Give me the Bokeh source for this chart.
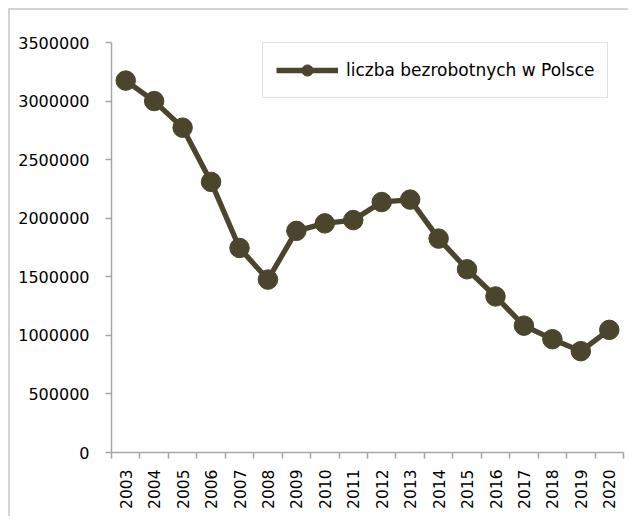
import math
from bokeh.plotting import figure
from bokeh.models import Range1d, FixedTicker, BasicTickFormatter, Legend, LegendItem
from bokeh.embed import file_html
from bokeh.resources import INLINE

years = [2003, 2004, 2005, 2006, 2007, 2008, 2009, 2010, 2011,
         2012, 2013, 2014, 2015, 2016, 2017, 2018, 2019, 2020]
unemployed = [3175000, 3000000, 2773000, 2310000, 1746000, 1476000,
              1892000, 1956000, 1984000, 2138000, 2159000, 1826000,
              1564000, 1332000, 1083000, 967000, 865000, 1047000]
y_ticks = [0, 500000, 1000000, 1500000, 2000000, 2500000, 3000000, 3500000]
series_name = "liczba bezrobotnych w Polsce"

COLOR = "#4b452e"
AXIS = "#a6a6a6"
FONT = "DejaVu Sans"

p = figure(width=628, height=516, output_backend="svg", toolbar_location=None,
           x_range=Range1d(years[0] - 0.5, years[-1] + 0.5),
           y_range=Range1d(y_ticks[0], y_ticks[-1]),
           min_border_left=111, min_border_right=5,
           min_border_top=42, min_border_bottom=64,
           styles={"box-shadow": "inset 8px 8px 0 0 #ffffff, inset 10px 10px 0 0 #d4d4d4"})
p.border_fill_alpha = 0
p.background_fill_color = None
p.outline_line_color = None
p.xgrid.visible = False
p.ygrid.visible = False

ln = p.line(years, unemployed, line_color=COLOR, line_width=5.3)
sc = p.scatter(years, unemployed, size=19.5, fill_color=COLOR, line_color=COLOR)

# y axis
ya = p.yaxis[0]
ya.ticker = FixedTicker(ticks=y_ticks, minor_ticks=[])
ya.formatter = BasicTickFormatter(use_scientific=False)
ya.axis_line_color = AXIS
ya.axis_line_width = 1.5
ya.major_tick_line_color = AXIS
ya.major_tick_line_width = 1.5
ya.major_tick_in = 0
ya.major_tick_out = 6
ya.minor_tick_line_color = None
ya.major_label_text_font = FONT
ya.major_label_text_font_size = "16px"
ya.major_label_text_color = "#000000"
ya.major_label_standoff = 16

# x axis: labels at years, tick marks between years
xa = p.xaxis[0]
xa.ticker = FixedTicker(ticks=years,
                        minor_ticks=[y - 0.5 for y in years] + [years[-1] + 0.5])
xa.formatter = BasicTickFormatter(use_scientific=False)
xa.axis_line_color = AXIS
xa.axis_line_width = 1.5
xa.major_tick_line_color = None
xa.major_tick_in = 0
xa.major_tick_out = 0
xa.minor_tick_line_color = AXIS
xa.minor_tick_line_width = 1.5
xa.minor_tick_in = 0
xa.minor_tick_out = 6
xa.major_label_orientation = math.pi / 2
xa.major_label_text_font = FONT
xa.major_label_text_font_size = "15.5px"
xa.major_label_text_color = "#000000"
xa.major_label_standoff = 11

legend = Legend(items=[LegendItem(label=series_name, renderers=[ln, sc])],
                location=(151, 354),
                glyph_width=62, glyph_height=28, label_standoff=8,
                padding=13, spacing=0, margin=0,
                border_line_color="#c4c4c4", border_line_width=1.5,
                background_fill_color="#ffffff",
                label_text_font=FONT, label_text_font_size="17px",
                label_text_color="#000000")
p.add_layout(legend, "center")

open("out.html", "w").write(file_html(p, INLINE))
